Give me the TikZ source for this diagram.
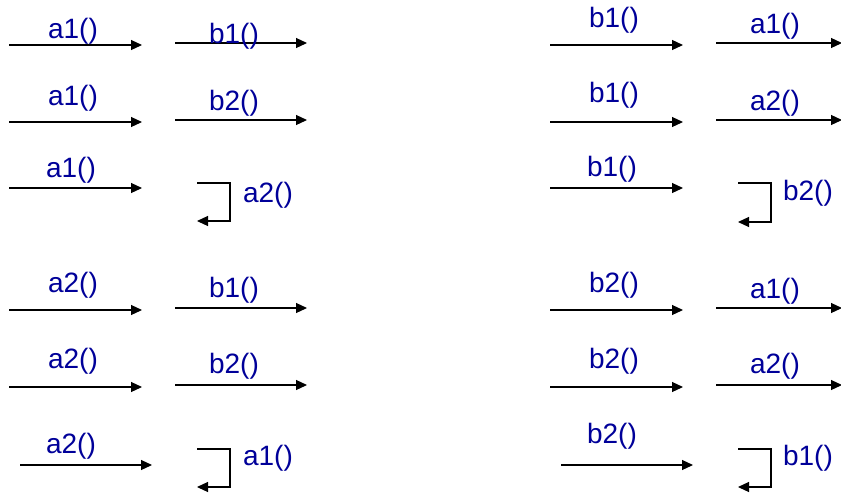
\documentclass[tikz,border=0pt]{standalone}
\usepackage{fontspec}
\setmainfont{Liberation Sans}
\usetikzlibrary{arrows.meta}
\definecolor{lbl}{RGB}{0,0,153}
\tikzset{
  msg/.style={draw=black, line width=1.2pt, -{Triangle[length=11pt,width=10pt]}},
  lab/.style={text=lbl, font=\fontsize{28}{32}\selectfont, anchor=base, inner sep=0pt}
}
\begin{document}
\begin{tikzpicture}[x=1pt,y=-1pt]
\useasboundingbox (0,0) rectangle (841,493);
% straight messages: name / x start / x end / y
\foreach \n/\xa/\xb/\y in {
  m1/9/142/45, m2/175/307/43, m3/9/142/122, m4/175/307/120, m5/9/142/188,
  m6/9/142/310, m7/175/307/308, m8/9/142/387, m9/175/307/385, m10/20/152/465,
  m11/550/683/45, m12/716/842/43, m13/550/683/122, m14/716/842/120, m15/550/683/188,
  m16/550/683/310, m17/716/842/308, m18/550/683/387, m19/716/842/385, m20/561/693/465}{
  \coordinate (\n s) at (\xa,\y);
  \coordinate (\n e) at (\xb,\y);
  \draw[msg] (\n s) -- (\n e);
}
% self messages: name / x left / x right / y top / y bottom
\foreach \n/\xa/\xb/\ya/\yb in {
  s1/197/230/183/221, s2/197/230/449/487, s3/738/771/183/222, s4/738/771/449/487}{
  \coordinate (\n a) at (\xa,\ya);
  \coordinate (\n b) at (\xb,\ya);
  \coordinate (\n c) at (\xb,\yb);
  \coordinate (\n d) at (\xa,\yb);
  \draw[msg] (\n a) -- (\n b) -- (\n c) -- (\n d);
}
% labels
\foreach \n/\x/\y/\t in {
  l1/73/38/a1(), l2/234/43/b1(), l3/73/105/a1(), l4/234/110/b2(), l5/71/177/a1(), l6/268/202/a2(),
  l7/73/292/a2(), l8/234/297/b1(), l9/73/368/a2(), l10/234/373/b2(), l11/71/453/a2(), l12/268/465/a1(),
  l13/614/27/b1(), l14/775/33/a1(), l15/614/102/b1(), l16/775/110/a2(), l17/612/176/b1(), l18/808/200/b2(),
  l19/614/292/b2(), l20/775/298/a1(), l21/614/368/b2(), l22/775/373/a2(), l23/612/443/b2(), l24/808/465/b1()}{
  \node[lab] (\n) at (\x,\y) {\t};
}
\end{tikzpicture}
\end{document}
